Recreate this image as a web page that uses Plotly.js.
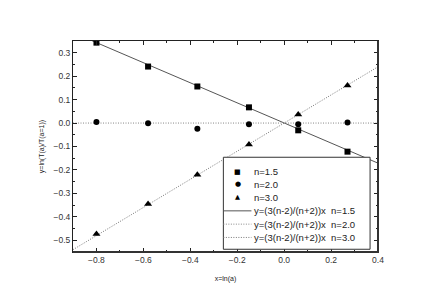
<!DOCTYPE html>
<html><head><meta charset="utf-8">
<script src="https://cdn.plot.ly/plotly-3.0.1.min.js"></script>
<style>html,body{margin:0;padding:0;background:#fff}#c{width:436px;height:303px}</style>
</head><body><div id="c"></div>
<script>
var xPts = [-0.80, -0.58, -0.37, -0.15, 0.06, 0.27];
var yN15 = [0.343, 0.241, 0.156, 0.067, -0.031, -0.122];
var yN20 = [0.004, -0.001, -0.024, -0.005, -0.005, 0.002];
var yN30 = [-0.473, -0.345, -0.221, -0.091, 0.037, 0.160];
var lineX = [-0.9, 0.4];
var line15 = [0.386, -0.171];
var line20 = [0.0, 0.0];
var line30 = [-0.54, 0.24];
var names = ['n=1.5', 'n=2.0', 'n=3.0',
  'y=(3(n-2)/(n+2))x\u00a0\u00a0n=1.5', 'y=(3(n-2)/(n+2))x\u00a0\u00a0n=2.0', 'y=(3(n-2)/(n+2))x\u00a0\u00a0n=3.0'];
var legendGlyphs = ['\u25A0', '\u25CF', '\u25B2'];

var FONT = 'Liberation Sans, Arial, sans-serif';
var lineColors = ['#555', '#888', '#777'];
var lineDash = ['solid', '1px,1.5px', '1px,1.5px'];

var traces = [
  {x: lineX, y: line15, mode: 'lines', name: names[3], line: {color: lineColors[0], width: 1, dash: lineDash[0]}},
  {x: lineX, y: line20, mode: 'lines', name: names[4], line: {color: lineColors[1], width: 1, dash: lineDash[1]}},
  {x: lineX, y: line30, mode: 'lines', name: names[5], line: {color: lineColors[2], width: 1, dash: lineDash[2]}},
  {x: xPts, y: yN15, mode: 'markers', name: names[0], marker: {symbol: 'square', size: 6, color: '#000'}},
  {x: xPts, y: yN20, mode: 'markers', name: names[1], marker: {symbol: 'circle', size: 6, color: '#000'}},
  {x: xPts, y: yN30, mode: 'markers', name: names[2], marker: {symbol: 'triangle-up', size: 7, color: '#000'}}
];

// legend drawn by hand (Plotly's minimum legend row height is too tall)
var L = {x0: 0.493, x1: 0.974, y0: 0.013, y1: 0.449};
var rowY = [0.381, 0.321, 0.260, 0.195, 0.132, 0.069];
var shapes = [
  {type: 'rect', xref: 'paper', yref: 'paper', x0: L.x0, x1: L.x1, y0: L.y0, y1: L.y1,
   line: {color: '#333', width: 1}, fillcolor: '#fff', layer: 'above'},
  {type: 'line', xref: 'paper', yref: 'paper', x0: 1, x1: 1, y0: -0.004, y1: 1, line: {color: '#333', width: 2}},
  {type: 'line', xref: 'paper', yref: 'paper', x0: 0, x1: 1.003, y0: 0, y1: 0, line: {color: '#333', width: 2}}
];
var annotations = [];
for (var i = 0; i < 3; i++) {
  annotations.push({xref: 'paper', yref: 'paper', x: 0.540, y: rowY[i], text: legendGlyphs[i],
    showarrow: false, xanchor: 'center', yanchor: 'middle', font: {family: 'DejaVu Sans', size: i === 2 ? 6.5 : 7, color: '#000'}});
  annotations.push({xref: 'paper', yref: 'paper', x: 0.588, y: rowY[i], text: names[i],
    showarrow: false, xanchor: 'left', yanchor: 'middle', font: {family: FONT, size: 9.5, color: '#222'}});
  shapes.push({type: 'line', xref: 'paper', yref: 'paper', x0: L.x0, x1: 0.585, y0: rowY[i + 3], y1: rowY[i + 3],
    line: {color: lineColors[i], width: 1, dash: lineDash[i]}, layer: 'above'});
  annotations.push({xref: 'paper', yref: 'paper', x: 0.588, y: rowY[i + 3], text: names[i + 3],
    showarrow: false, xanchor: 'left', yanchor: 'middle', font: {family: FONT, size: 9.5, color: '#222'}});
}

var ax = {
  showgrid: false, zeroline: false, showline: true, mirror: 'ticks',
  linecolor: '#222', linewidth: 1, ticks: 'inside', ticklen: 4, tickcolor: '#222',
  tickfont: {family: FONT, size: 8.5, color: '#333'}
};
var layout = {
  width: 436, height: 303,
  margin: {l: 73, r: 58, t: 41, b: 51},
  paper_bgcolor: '#fff', plot_bgcolor: '#fff',
  showlegend: false,
  xaxis: Object.assign({}, ax, {range: [-0.9, 0.4], dtick: 0.2, tickformat: '.1f',
    minor: {dtick: 0.1, ticks: 'inside', ticklen: 2, tickcolor: '#222'},
    title: {text: 'x=ln(a)', font: {family: FONT, size: 7, color: '#222'}, standoff: 11}}),
  yaxis: Object.assign({}, ax, {range: [-0.55, 0.35], dtick: 0.1, tickformat: '.1f',
    minor: {dtick: 0.05, ticks: 'inside', ticklen: 2, tickcolor: '#222'},
    title: {text: 'y=ln(T(a)/T(a=1))', font: {family: FONT, size: 7, color: '#222'}, standoff: 8}}),
  shapes: shapes,
  annotations: annotations
};
Plotly.newPlot('c', traces, layout, {displayModeBar: false, staticPlot: true});
</script></body></html>
